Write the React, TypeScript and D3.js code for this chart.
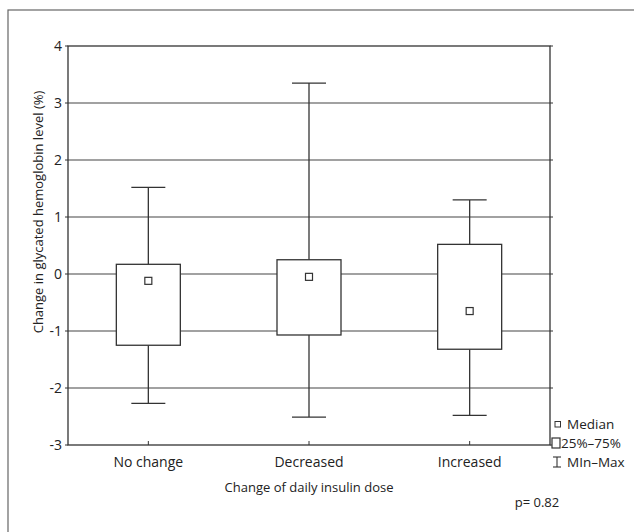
import React from "react";
import * as d3 from "d3";

const categories = ["No change", "Decreased", "Increased"];
const minValues = [-2.27, -2.51, -2.48];
const q1Values = [-1.25, -1.07, -1.32];
const medianValues = [-0.12, -0.05, -0.65];
const q3Values = [0.17, 0.25, 0.52];
const maxValues = [1.52, 3.35, 1.3];
const yTicks = [-3, -2, -1, 0, 1, 2, 3, 4];

const W = 634;
const H = 532;
const left = 68;
const right = 550;
const top = 46;
const bottom = 445;
const FONT = "'Open Sans', 'Noto Sans', sans-serif";

export default function App() {
  const y = d3.scaleLinear().domain([-3, 4]).range([bottom, top]);
  const x = d3.scaleBand().domain(categories).range([left, right]).padding(0);
  const boxW = 64;
  const capW = 34;
  const stroke = "#333";
  return (
    <svg
      width={W}
      height={H}
      style={{ position: "absolute", left: 0, top: 0, background: "#fff" }}
      fontFamily={FONT}
    >
      <rect x={8} y={10} width={W + 20} height={H + 20} fill="none" stroke="#666" strokeWidth={1.2} />
      {yTicks.map((t) => (
        <g key={t}>
          {t > -3 && t < 4 && (
            <line x1={left} x2={right} y1={y(t)} y2={y(t)} stroke="#444" strokeWidth={1.1} />
          )}
          <line x1={left - 3} x2={left} y1={y(t)} y2={y(t)} stroke={stroke} strokeWidth={1} />
          <line x1={right} x2={right + 3} y1={y(t)} y2={y(t)} stroke={stroke} strokeWidth={1} />
          <text x={left - 6} y={y(t)} dy="0.35em" textAnchor="end" fontSize={14} fill="#222">
            {t}
          </text>
        </g>
      ))}
      <rect x={left} y={top} width={right - left} height={bottom - top} fill="none" stroke={stroke} strokeWidth={1.3} />
      {categories.map((c, i) => {
        const cx = (x(c) as number) + x.bandwidth() / 2;
        return (
          <g key={c}>
            <line x1={cx} x2={cx} y1={bottom} y2={bottom - 4} stroke={stroke} strokeWidth={1} />
            <line x1={cx} x2={cx} y1={y(maxValues[i])} y2={y(q3Values[i])} stroke={stroke} strokeWidth={1.3} />
            <line x1={cx} x2={cx} y1={y(q1Values[i])} y2={y(minValues[i])} stroke={stroke} strokeWidth={1.3} />
            <line x1={cx - capW / 2} x2={cx + capW / 2} y1={y(maxValues[i])} y2={y(maxValues[i])} stroke={stroke} strokeWidth={1.3} />
            <line x1={cx - capW / 2} x2={cx + capW / 2} y1={y(minValues[i])} y2={y(minValues[i])} stroke={stroke} strokeWidth={1.3} />
            <rect
              x={cx - boxW / 2}
              y={y(q3Values[i])}
              width={boxW}
              height={y(q1Values[i]) - y(q3Values[i])}
              fill="#fff"
              stroke={stroke}
              strokeWidth={1.3}
            />
            <rect x={cx - 3.5} y={y(medianValues[i]) - 3.5} width={7} height={7} fill="#fff" stroke={stroke} strokeWidth={1.2} />
            <text x={cx} y={462} dy="0.35em" textAnchor="middle" fontSize={14} fill="#222">
              {c}
            </text>
          </g>
        );
      })}
      <text x={309} y={487} dy="0.35em" textAnchor="middle" fontSize={13} fill="#222">
        Change of daily insulin dose
      </text>
      <text
        transform={`translate(38, 212) rotate(-90)`}
        textAnchor="middle"
        dy="0.35em"
        fontSize={13}
        fill="#222"
      >
        Change in glycated hemoglobin level (%)
      </text>
      <text x={537} y={502} dy="0.35em" textAnchor="middle" fontSize={13} fill="#222">
        p= 0.82
      </text>
      <g fontSize={13.5} fill="#222">
        <rect x={555} y={421.5} width={5.5} height={5.5} fill="#fff" stroke={stroke} strokeWidth={1} />
        <text x={567} y={424} dy="0.35em">Median</text>
        <rect x={552} y={438} width={8} height={10} fill="#fff" stroke={stroke} strokeWidth={1.2} />
        <text x={561} y={443} dy="0.35em">25%–75%</text>
        <line x1={557} x2={557} y1={457} y2={467} stroke={stroke} strokeWidth={1.1} />
        <line x1={553} x2={561} y1={457} y2={457} stroke={stroke} strokeWidth={1.1} />
        <line x1={553} x2={561} y1={467} y2={467} stroke={stroke} strokeWidth={1.1} />
        <text x={567} y={462} dy="0.35em">MIn–Max</text>
      </g>
    </svg>
  );
}
